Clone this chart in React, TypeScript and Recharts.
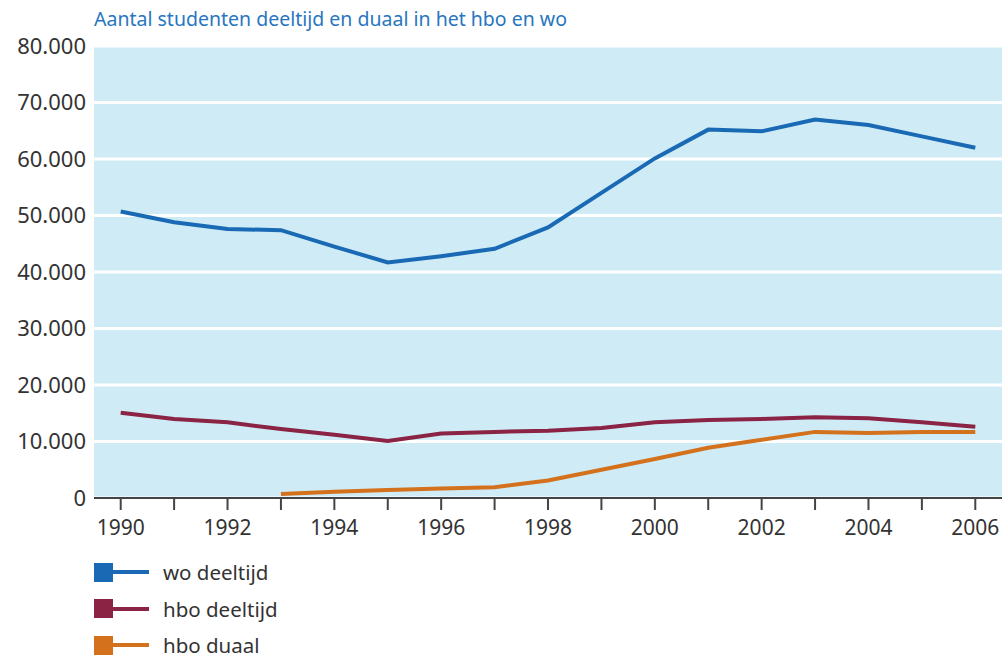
import { LineChart, Line, XAxis, YAxis, CartesianGrid } from "recharts";

const YEARS = [1990, 1991, 1992, 1993, 1994, 1995, 1996, 1997, 1998, 1999, 2000, 2001, 2002, 2003, 2004, 2005, 2006];
const WO_DEELTIJD = [50700, 48800, 47600, 47400, 44500, 41700, 42800, 44100, 47900, 54000, 60100, 65200, 64900, 67000, 66000, 64000, 62000];
const HBO_DEELTIJD = [15100, 14000, 13400, 12200, 11200, 10100, 11400, 11700, 11900, 12400, 13400, 13800, 14000, 14300, 14100, 13400, 12600];
const HBO_DUAAL = [null, null, null, 700, 1100, 1400, 1700, 1900, 3100, 5000, 6900, 8900, 10300, 11700, 11500, 11700, 11700];
const Y_TICKS = [0, 10000, 20000, 30000, 40000, 50000, 60000, 70000, 80000];

const SERIES = [
  { key: "wo", name: "wo deeltijd", color: "#1a69b4" },
  { key: "hbo", name: "hbo deeltijd", color: "#8a2344" },
  { key: "duaal", name: "hbo duaal", color: "#d4711d" },
];

const FONT = "'Noto Sans', sans-serif";
const TEXT = "#333333";

const data = YEARS.map((y, i) => ({
  year: y,
  wo: WO_DEELTIJD[i],
  hbo: HBO_DEELTIJD[i],
  duaal: HBO_DUAAL[i] ?? undefined,
}));

const fmt = (v: number) => v.toLocaleString("nl-NL");

export default function App() {
  return (
    <div style={{ position: "absolute", left: 0, top: 0, width: 1005, height: 657, background: "#fff", fontFamily: FONT }}>
      <div style={{ position: "absolute", left: 94, top: 5, fontSize: 19.5, color: "#2776c1" }}>
        Aantal studenten deeltijd en duaal in het hbo en wo
      </div>
      <LineChart width={1005} height={657} data={data} margin={{ top: 46, right: 3, bottom: 119, left: 0 }}>
        <CartesianGrid vertical={false} stroke="#ffffff" strokeWidth={3} fill="#cfecf6" />
        <XAxis
          dataKey="year"
          type="number"
          domain={[1989.5, 2006.5]}
          ticks={YEARS}
          tickFormatter={(v: number) => (v % 2 === 0 ? String(v) : "")}
          height={40}
          axisLine={{ stroke: "#444", strokeWidth: 2 }}
          tickLine={{ stroke: "#444", strokeWidth: 2 }}
          tickSize={12}
          tickMargin={10}
          tick={{ fill: TEXT, fontSize: 21, fontFamily: FONT }}
          interval={0}
        />
        <YAxis
          domain={[0, 80000]}
          ticks={Y_TICKS}
          tickFormatter={fmt}
          width={94}
          axisLine={false}
          tickLine={false}
          tickSize={0}
          tickMargin={8}
          tick={{ fill: TEXT, fontSize: 22, fontFamily: FONT }}
        />
        {SERIES.map((s) => (
          <Line
            key={s.key}
            dataKey={s.key}
            name={s.name}
            stroke={s.color}
            strokeWidth={4}
            dot={false}
            type="linear"
            isAnimationActive={false}
          />
        ))}
      </LineChart>
      {SERIES.map((s, i) => (
        <div key={s.key} style={{ position: "absolute", left: 94, top: 562 + i * 36.5, height: 20, display: "flex", alignItems: "center" }}>
          <div style={{ width: 19, height: 19, background: s.color }} />
          <div style={{ width: 36, height: 4, background: s.color }} />
          <span style={{ marginLeft: 14, fontSize: 20.5, color: TEXT }}>{s.name}</span>
        </div>
      ))}
    </div>
  );
}
